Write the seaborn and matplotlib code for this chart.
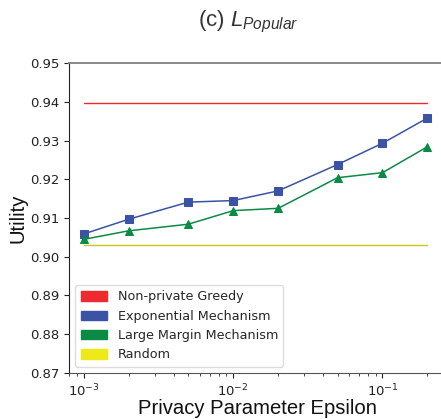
import numpy as np
import pandas as pd
import seaborn as sns
import matplotlib.pyplot as plt
from matplotlib.patches import Patch

# values
epsilon = [0.001, 0.002, 0.005, 0.01, 0.02, 0.05, 0.1, 0.2]
exponential = [0.9059, 0.9097, 0.9141, 0.9145, 0.9170, 0.9238, 0.9293, 0.9358]
large_margin = [0.9045, 0.9067, 0.9084, 0.9119, 0.9125, 0.9204, 0.9217, 0.9284]
greedy_level = 0.9396
random_level = 0.9031

series_names = ["Non-private Greedy", "Exponential Mechanism",
                "Large Margin Mechanism", "Random"]
colors = ["#ee2a2e", "#3a53a4", "#0b8a45", "#eeea1a"]
line_colors = ["#ee2a2e", "#3a53a4", "#0b8a45", "#c9c51c"]

sns.set_style("ticks")
plt.rcParams['font.family'] = ['DejaVu Sans']
plt.rcParams['mathtext.fontset'] = 'custom'
plt.rcParams['mathtext.rm'] = 'Liberation Sans'
plt.rcParams['mathtext.it'] = 'Liberation Sans:italic'

fig = plt.figure(figsize=(4.41, 4.19), dpi=100)
ax = fig.add_axes([0.1565, 0.1098, 0.853, 0.7398])

sns.lineplot(x=epsilon, y=[greedy_level] * len(epsilon), color=line_colors[0],
             linewidth=1.0, ax=ax)
sns.lineplot(x=epsilon, y=exponential, color=line_colors[1], marker='s',
             markersize=5.3, markeredgecolor=line_colors[1], linewidth=1.1, ax=ax)
sns.lineplot(x=epsilon, y=large_margin, color=line_colors[2], marker='^',
             markersize=5.3, markeredgecolor=line_colors[2], linewidth=1.1, ax=ax)
sns.lineplot(x=epsilon, y=[random_level] * len(epsilon), color=line_colors[3],
             linewidth=1.0, ax=ax)

ax.set_xscale('log')
ax.set_xlim(10 ** -3.1, 10 ** -0.58)
ax.set_ylim(0.87, 0.95)
ax.set_yticks(np.arange(0.87, 0.951, 0.01))
ax.set_yticklabels([f"{v:.2f}" for v in np.arange(0.87, 0.951, 0.01)])
ax.tick_params(labelsize=9.5, colors='#222222', length=3.5)
ax.tick_params(which='minor', length=2)

ax.spines['right'].set_visible(False)
ax.spines['top'].set_visible(True)
ax.spines['top'].set_color('#888888')
ax.spines['top'].set_linewidth(1.4)
ax.spines['left'].set_color('#222222')
ax.spines['bottom'].set_color('#555555')

ax.set_xlabel('Privacy Parameter Epsilon', family='Liberation Sans', fontsize=14.6,
              color='#111111', labelpad=0)
ax.set_ylabel('Utility', family='Liberation Sans', fontsize=14.6, color='#111111',
              labelpad=2)
fig.text(0.563, 0.948, '(c) $L_{Popular}$', ha='center', va='center',
         family='Liberation Sans', fontsize=16, color='#333333')

handles = [Patch(facecolor=c, edgecolor=c) for c in colors]
ax.legend(handles, series_names, loc='lower left', fontsize=9.2, frameon=True,
          handlelength=2.1, handleheight=0.75, borderaxespad=0.5,
          labelspacing=0.5, edgecolor='#dddddd', framealpha=1)

fig.savefig('out.png', dpi=100)
